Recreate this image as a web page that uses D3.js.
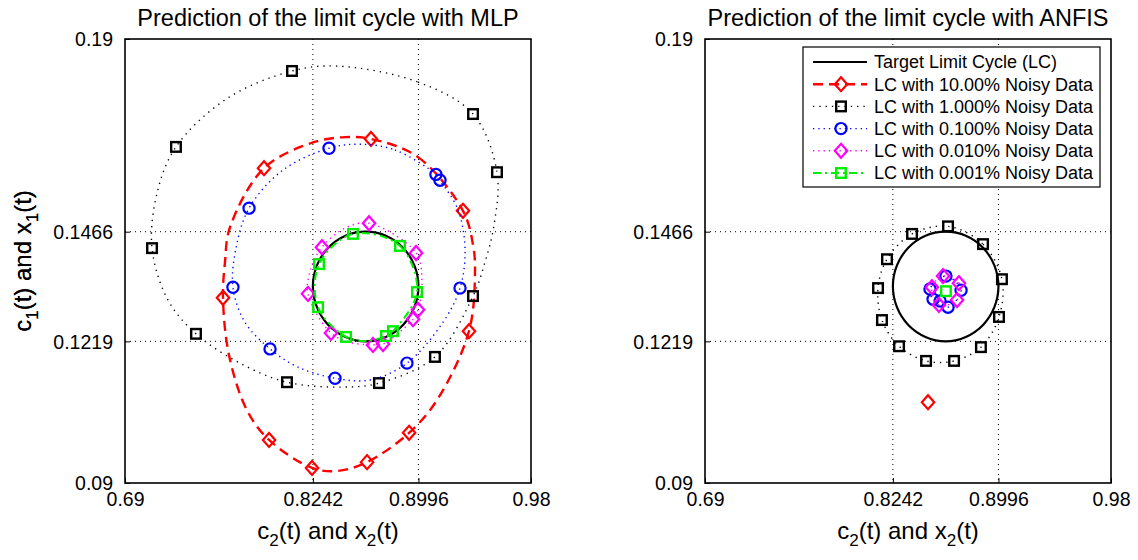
<!DOCTYPE html>
<html>
<head>
<meta charset="utf-8">
<script src="https://cdn.jsdelivr.net/npm/d3@7"></script>
<style>
  body { margin: 0; background: #fff; }
  svg { font-family: "Liberation Sans", Arial, sans-serif; }
</style>
</head>
<body>
<div id="chart"></div>
<script>
// ticks shared by both panels
const xTicks = [0.69, 0.8242, 0.8996, 0.98];
const yTicks = [0.09, 0.1219, 0.1466, 0.19];
const xGrid = [0.8242, 0.8996];
const yGrid = [0.1219, 0.1466];

const legendNames = [
  "Target Limit Cycle (LC)",
  "LC with 10.00% Noisy Data",
  "LC with 1.000% Noisy Data",
  "LC with 0.100% Noisy Data",
  "LC with 0.010% Noisy Data",
  "LC with 0.001% Noisy Data"
];

// target limit cycle (same in both panels)
const targetLC = [
  [0.8996, 0.1343], [0.8967, 0.1390], [0.8886, 0.1430], [0.8763, 0.1457],
  [0.8619, 0.1466], [0.8475, 0.1457], [0.8352, 0.1430], [0.8271, 0.1390],
  [0.8242, 0.1343], [0.8271, 0.1296], [0.8352, 0.1256], [0.8475, 0.1229],
  [0.8619, 0.1219], [0.8763, 0.1229], [0.8886, 0.1256], [0.8967, 0.1296]
];

// ---- MLP panel ----
const mlp10Line = [
  [0.8657, 0.1675], [0.8993, 0.1634], [0.9314, 0.1513], [0.9386, 0.1436], [0.9400, 0.1379],
  [0.9357, 0.1242], [0.9129, 0.1087], [0.8929, 0.1013], [0.8629, 0.0947], [0.8414, 0.0927],
  [0.8236, 0.0934], [0.7929, 0.0997], [0.7771, 0.1064], [0.7643, 0.1188], [0.7600, 0.1317],
  [0.7614, 0.1397], [0.7650, 0.1476], [0.7893, 0.1609], [0.8243, 0.1667], [0.8471, 0.1679]
];
const mlp10Marks = [
  [0.7893, 0.1609], [0.8657, 0.1675], [0.9314, 0.1513], [0.7600, 0.1317], [0.9357, 0.1242],
  [0.7929, 0.0997], [0.8236, 0.0934], [0.8629, 0.0947], [0.8929, 0.1013]
];

const mlp1Line = [
  [0.8414, 0.1839], [0.8993, 0.1803], [0.9386, 0.1731], [0.9557, 0.1600], [0.9536, 0.1481],
  [0.9471, 0.1397], [0.9386, 0.1321], [0.9114, 0.1184], [0.8714, 0.1125], [0.8457, 0.1116],
  [0.8057, 0.1127], [0.7721, 0.1170], [0.7407, 0.1236], [0.7207, 0.1312], [0.7093, 0.1429],
  [0.7129, 0.1553], [0.7264, 0.1657], [0.7629, 0.1766], [0.8093, 0.1828]
];
const mlp1Marks = [
  [0.8093, 0.1828], [0.9386, 0.1731], [0.9557, 0.1600], [0.7264, 0.1657], [0.7093, 0.1429],
  [0.9386, 0.1321], [0.7407, 0.1236], [0.8057, 0.1127], [0.8714, 0.1125], [0.9114, 0.1184]
];

const mlp01Line = [
  [0.8579, 0.1663], [0.8829, 0.1650], [0.9121, 0.1595], [0.9150, 0.1582], [0.9279, 0.1515],
  [0.9329, 0.1424], [0.9293, 0.1339], [0.9171, 0.1262], [0.8914, 0.1170], [0.8650, 0.1132],
  [0.8400, 0.1136], [0.8136, 0.1161], [0.7936, 0.1202], [0.7757, 0.1262], [0.7671, 0.1341],
  [0.7693, 0.1429], [0.7786, 0.1519], [0.8029, 0.1605], [0.8357, 0.1654]
];
const mlp01Marks = [
  [0.8357, 0.1654], [0.9121, 0.1595], [0.9150, 0.1582], [0.7786, 0.1519], [0.7671, 0.1341],
  [0.9293, 0.1339], [0.7936, 0.1202], [0.8914, 0.1170], [0.8400, 0.1136]
];

const mlp001Line = [
  [0.8643, 0.1485], [0.8979, 0.1418], [0.9021, 0.1350], [0.8993, 0.1290], [0.8957, 0.1269],
  [0.8743, 0.1213], [0.8671, 0.1211], [0.8507, 0.1217], [0.8371, 0.1238], [0.8207, 0.1326],
  [0.8229, 0.1384], [0.8307, 0.1431], [0.8471, 0.1474]
];
const mlp001Marks = [
  [0.8643, 0.1485], [0.8307, 0.1431], [0.8979, 0.1418], [0.8207, 0.1326], [0.8993, 0.1290],
  [0.8957, 0.1269], [0.8371, 0.1238], [0.8671, 0.1211], [0.8743, 0.1213]
];

const mlp0001Line = [
  [0.8529, 0.1461], [0.8864, 0.1434], [0.8986, 0.1330], [0.8814, 0.1242], [0.8764, 0.1231],
  [0.8621, 0.1220], [0.8479, 0.1229], [0.8279, 0.1296], [0.8286, 0.1393]
];
const mlp0001Marks = [
  [0.8529, 0.1461], [0.8864, 0.1434], [0.8286, 0.1393], [0.8986, 0.1330], [0.8279, 0.1296],
  [0.8479, 0.1229], [0.8764, 0.1231], [0.8814, 0.1242]
];

// ---- ANFIS panel ----
const anfis10Marks = [[0.8493, 0.1082]];

const anfis1Marks = [
  [0.8636, 0.1478], [0.8886, 0.1438], [0.9021, 0.1359], [0.9000, 0.1274], [0.8871, 0.1206],
  [0.8679, 0.1175], [0.8479, 0.1175], [0.8286, 0.1208], [0.8164, 0.1267], [0.8136, 0.1339],
  [0.8200, 0.1404], [0.8379, 0.1461]
];

const anfis01Marks = [
  [0.8621, 0.1366], [0.8729, 0.1334], [0.8636, 0.1296], [0.8579, 0.1310],
  [0.8529, 0.1314], [0.8507, 0.1337]
];

const anfis001Marks = [
  [0.8600, 0.1366], [0.8714, 0.1350], [0.8700, 0.1312], [0.8571, 0.1301], [0.8521, 0.1341]
];

const anfis0001Marks = [[0.8621, 0.1332]];

const styles = [
  { color: "#000000", dash: null, width: 2.2, marker: null },
  { color: "#ff0000", dash: "10,6", width: 2.4, marker: "diamond" },
  { color: "#000000", dash: "1.3,5", width: 1.4, marker: "square" },
  { color: "#0000ff", dash: "1.3,4", width: 1.4, marker: "circle" },
  { color: "#ff00ff", dash: "1.3,4", width: 1.4, marker: "diamond" },
  { color: "#00ee00", dash: "8,4,2,4", width: 2, marker: "square" }
];

const panels = [
  {
    left: 125, title: "Prediction of the limit cycle with MLP",
    lines: [targetLC, mlp10Line, mlp1Line, mlp01Line, mlp001Line, mlp0001Line],
    marks: [[], mlp10Marks, mlp1Marks, mlp01Marks, mlp001Marks, mlp0001Marks]
  },
  {
    left: 705, title: "Prediction of the limit cycle with ANFIS",
    lines: [targetLC, [], anfis1Marks, anfis01Marks, anfis001Marks, []],
    marks: [[], anfis10Marks, anfis1Marks, anfis01Marks, anfis001Marks, anfis0001Marks],
    legend: true
  }
];

const W = 1138, H = 560;
const plotW = 406, plotTop = 39, plotH = 444;

const svg = d3.select("#chart").append("svg")
  .attr("width", W)
  .attr("height", H);

function drawMarker(sel, type, color) {
  if (type === "square") {
    sel.append("rect").attr("x", -4.8).attr("y", -4.8).attr("width", 9.6).attr("height", 9.6)
      .attr("fill", "none").attr("stroke", color).attr("stroke-width", 2.4);
  } else if (type === "circle") {
    sel.append("circle").attr("r", 5.6)
      .attr("fill", "none").attr("stroke", color).attr("stroke-width", 2.2);
  } else if (type === "diamond") {
    sel.append("path").attr("d", "M0,-7L6.2,0L0,7L-6.2,0Z")
      .attr("fill", "none").attr("stroke", color).attr("stroke-width", 2.2);
  }
}

panels.forEach(p => {
  const g = svg.append("g").attr("transform", `translate(${p.left},${plotTop})`);

  const x = d3.scaleLinear().domain([0.69, 0.98]).range([0, plotW]);
  const y = d3.scaleLinear().domain([0.09, 0.19]).range([plotH, 0]);

  // grid
  g.selectAll(".gx").data(xGrid).enter().append("line")
    .attr("x1", d => x(d)).attr("x2", d => x(d))
    .attr("y1", 0).attr("y2", plotH)
    .attr("stroke", "#000").attr("stroke-width", 1).attr("stroke-dasharray", "1,4");
  g.selectAll(".gy").data(yGrid).enter().append("line")
    .attr("y1", d => y(d)).attr("y2", d => y(d))
    .attr("x1", 0).attr("x2", plotW)
    .attr("stroke", "#000").attr("stroke-width", 1).attr("stroke-dasharray", "1,4");

  // axes (ticks inward, labels only)
  const xAxis = g.append("g").attr("transform", `translate(0,${plotH})`)
    .call(d3.axisBottom(x).tickValues(xTicks).tickFormat(d => String(d)).tickSizeInner(-5).tickSizeOuter(0).tickPadding(12));
  const yAxis = g.append("g")
    .call(d3.axisLeft(y).tickValues(yTicks).tickFormat(d => String(d)).tickSizeInner(-5).tickSizeOuter(0).tickPadding(12));
  [xAxis, yAxis].forEach(a => {
    a.select(".domain").remove();
    a.selectAll("line").attr("stroke", "#000");
    a.selectAll("text").attr("fill", "#000").style("font-size", "19.5px")
      .style("font-family", "'Liberation Sans', Arial, sans-serif");
  });
  xAxis.selectAll("text").attr("dy", "0.55em");
  yAxis.selectAll("text").attr("dy", "0.35em");

  const clip = "clip" + p.left;
  g.append("clipPath").attr("id", clip).append("rect").attr("width", plotW).attr("height", plotH);
  const plot = g.append("g").attr("clip-path", `url(#${clip})`);

  const line = d3.line()
    .x(d => x(d[0])).y(d => y(d[1]))
    .curve(d3.curveCatmullRomClosed.alpha(0.5));

  styles.forEach((s, i) => {
    const pts = p.lines[i];
    if (pts.length > 1) {
      plot.append("path").datum(pts)
        .attr("d", line)
        .attr("fill", "none")
        .attr("stroke", s.color)
        .attr("stroke-width", s.width)
        .attr("stroke-dasharray", s.dash);
    }
    if (s.marker) {
      plot.selectAll(null).data(p.marks[i]).enter().append("g")
        .attr("transform", d => `translate(${x(d[0])},${y(d[1])})`)
        .each(function () { drawMarker(d3.select(this), s.marker, s.color); });
    }
  });

  // frame
  g.append("rect").attr("width", plotW).attr("height", plotH)
    .attr("fill", "none").attr("stroke", "#000").attr("stroke-width", 1.6);

  g.append("text").attr("x", plotW / 2).attr("y", -13)
    .attr("text-anchor", "middle").style("font-size", "23.5px")
    .text(p.title);

  const xl = g.append("text").attr("x", plotW / 2).attr("y", plotH + 56)
    .attr("text-anchor", "middle").style("font-size", "24px");
  xl.append("tspan").text("c");
  xl.append("tspan").attr("dy", 7).style("font-size", "17px").text("2");
  xl.append("tspan").attr("dy", -7).text("(t) and x");
  xl.append("tspan").attr("dy", 7).style("font-size", "17px").text("2");
  xl.append("tspan").attr("dy", -7).text("(t)");

  const yl = g.append("text")
    .attr("transform", `translate(${-p.left + 31},${plotH / 2}) rotate(-90)`)
    .attr("text-anchor", "middle").style("font-size", "24px");
  yl.append("tspan").text("c");
  yl.append("tspan").attr("dy", 7).style("font-size", "17px").text("1");
  yl.append("tspan").attr("dy", -7).text("(t) and x");
  yl.append("tspan").attr("dy", 7).style("font-size", "17px").text("1");
  yl.append("tspan").attr("dy", -7).text("(t)");

  if (p.legend) {
    const lg = svg.append("g").attr("transform", "translate(803,47)");
    lg.append("rect").attr("width", 297).attr("height", 140)
      .attr("fill", "#fff").attr("stroke", "#000").attr("stroke-width", 1.2);
    legendNames.forEach((name, i) => {
      const s = styles[i];
      const row = lg.append("g").attr("transform", `translate(0,${15 + i * 22.2})`);
      row.append("line").attr("x1", 10).attr("x2", 64)
        .attr("stroke", s.color).attr("stroke-width", s.width)
        .attr("stroke-dasharray", s.dash);
      if (s.marker) {
        const m = row.append("g").attr("transform", "translate(38,0)");
        drawMarker(m, s.marker, s.color);
      }
      row.append("text").attr("x", 71).attr("dy", "0.35em")
        .style("font-size", "18px").text(name);
    });
  }
});
</script>
</body>
</html>
